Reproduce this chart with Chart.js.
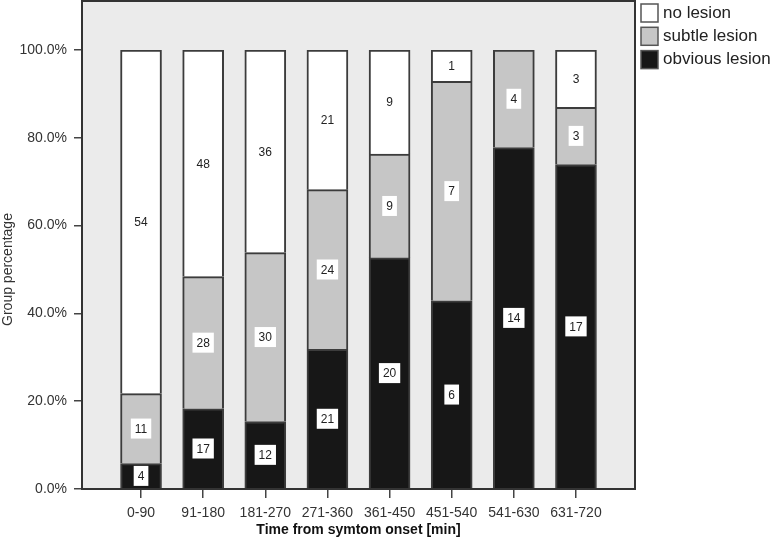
<!DOCTYPE html>
<html lang="en">
<head>
    <meta charset="UTF-8">
    <title>Lesion by time from symptom onset</title>
    <script src="https://cdn.jsdelivr.net/npm/chart.js@4.4.1/dist/chart.umd.min.js"></script>
    <style>
        body {
            margin: 0;
            background: #fff;
        }
        .wrap {
            width: 779px;
            height: 543px;
        }
    </style>
</head>
<body>
    <div class="wrap">
        <canvas id="lesionChart" width="779" height="543"></canvas>
    </div>

    <script>
        // counts per time bin
        const categories = ['0-90', '91-180', '181-270', '271-360', '361-450', '451-540', '541-630', '631-720'];
        const obviousCounts = [4, 17, 12, 21, 20, 6, 14, 17];
        const subtleCounts = [11, 28, 30, 24, 9, 7, 4, 3];
        const noLesionCounts = [54, 48, 36, 21, 9, 1, 0, 3];
        const yTicks = [0, 20, 40, 60, 80, 100];

        const totals = categories.map((c, i) => obviousCounts[i] + subtleCounts[i] + noLesionCounts[i]);
        const toPoints = counts => counts.map((v, i) => ({ x: i, y: 100 * v / totals[i] }));

        Chart.defaults.font.family = '"Liberation Sans", Arial, sans-serif';
        Chart.defaults.color = '#333';

        // grey plot panel with dark frame
        const panel = {
            id: 'panel',
            beforeDraw(chart) {
                const { ctx, chartArea: a } = chart;
                ctx.save();
                ctx.fillStyle = '#ebebeb';
                ctx.fillRect(a.left, 1, a.right - a.left, a.bottom - 1);
                ctx.restore();
            },
            afterDatasetsDraw(chart) {
                const { ctx, chartArea: a } = chart;
                ctx.save();
                ctx.strokeStyle = '#333';
                ctx.lineWidth = 2;
                ctx.strokeRect(a.left, 1, a.right - a.left, a.bottom - 1);
                ctx.restore();
            }
        };

        // count labels in white boxes at the middle of each segment
        const countLabels = {
            id: 'countLabels',
            afterDatasetsDraw(chart) {
                const { ctx } = chart;
                ctx.save();
                ctx.font = '12px "Liberation Sans", Arial, sans-serif';
                ctx.textAlign = 'center';
                ctx.textBaseline = 'middle';
                chart.data.datasets.forEach((ds, d) => {
                    chart.getDatasetMeta(d).data.forEach((bar, i) => {
                        const n = ds.counts[i];
                        if (!n) return;
                        const { x, y, base } = bar.getProps(['x', 'y', 'base'], true);
                        const cy = (y + base) / 2;
                        const w = ctx.measureText(String(n)).width + 8;
                        ctx.fillStyle = '#fff';
                        ctx.fillRect(x - w / 2, cy - 10, w, 20);
                        ctx.fillStyle = '#222';
                        ctx.fillText(String(n), x, cy + 1);
                    });
                });
                ctx.restore();
            }
        };

        // legend outside the panel, top right
        const sideLegend = {
            id: 'sideLegend',
            afterDraw(chart) {
                const { ctx } = chart;
                const items = chart.data.datasets.slice().reverse();
                ctx.save();
                ctx.font = '17px "Liberation Sans", Arial, sans-serif';
                ctx.textBaseline = 'middle';
                items.forEach((ds, k) => {
                    const top = 4 + k * 23.3;
                    ctx.fillStyle = ds.backgroundColor;
                    ctx.fillRect(641, top, 17, 18);
                    ctx.strokeStyle = '#555';
                    ctx.lineWidth = 1.5;
                    ctx.strokeRect(641, top, 17, 18);
                    ctx.fillStyle = '#222';
                    ctx.fillText(ds.label, 663, top + 9);
                });
                ctx.restore();
            }
        };

        const barStyle = { borderColor: '#3c3c3c', borderWidth: 2, barThickness: 41 };

        new Chart(document.getElementById('lesionChart'), {
            type: 'bar',
            data: {
                datasets: [{
                    label: 'obvious lesion',
                    data: toPoints(obviousCounts),
                    counts: obviousCounts,
                    backgroundColor: '#171717',
                    ...barStyle
                }, {
                    label: 'subtle lesion',
                    data: toPoints(subtleCounts),
                    counts: subtleCounts,
                    backgroundColor: '#c6c6c6',
                    ...barStyle
                }, {
                    label: 'no lesion',
                    data: toPoints(noLesionCounts),
                    counts: noLesionCounts,
                    backgroundColor: '#ffffff',
                    ...barStyle
                }]
            },
            options: {
                responsive: false,
                animation: false,
                layout: { padding: { top: 50, right: 144, left: 0, bottom: 0 } },
                plugins: {
                    legend: { display: false },
                    tooltip: { enabled: false }
                },
                scales: {
                    x: {
                        type: 'linear',
                        stacked: true,
                        offset: false,
                        min: -0.95,
                        max: 7.95,
                        afterBuildTicks: s => { s.ticks = categories.map((c, i) => ({ value: i })); },
                        afterFit: s => { s.height = 54; },
                        ticks: {
                            callback: v => categories[v],
                            autoSkip: false,
                            maxRotation: 0,
                            padding: 7,
                            font: { size: 14 },
                            color: '#333'
                        },
                        grid: { offset: false, drawOnChartArea: false, tickLength: 9, color: '#444', lineWidth: 1.5 },
                        border: { display: false },
                        title: {
                            display: true,
                            text: 'Time from symtom onset [min]',
                            font: { size: 14, weight: 'bold' },
                            color: '#111'
                        }
                    },
                    y: {
                        stacked: true,
                        min: 0,
                        max: 100,
                        afterBuildTicks: s => { s.ticks = yTicks.map(v => ({ value: v })); },
                        afterFit: s => { s.width = 82; },
                        ticks: {
                            callback: v => v.toFixed(1) + '%',
                            padding: 7,
                            font: { size: 14 },
                            color: '#333'
                        },
                        grid: { drawOnChartArea: false, tickLength: 8, color: '#444', lineWidth: 1.5 },
                        border: { display: false },
                        title: {
                            display: true,
                            text: 'Group percentage',
                            font: { size: 14 },
                            color: '#333',
                            padding: 0
                        }
                    }
                }
            },
            plugins: [panel, countLabels, sideLegend]
        });
    </script>
</body>
</html>
